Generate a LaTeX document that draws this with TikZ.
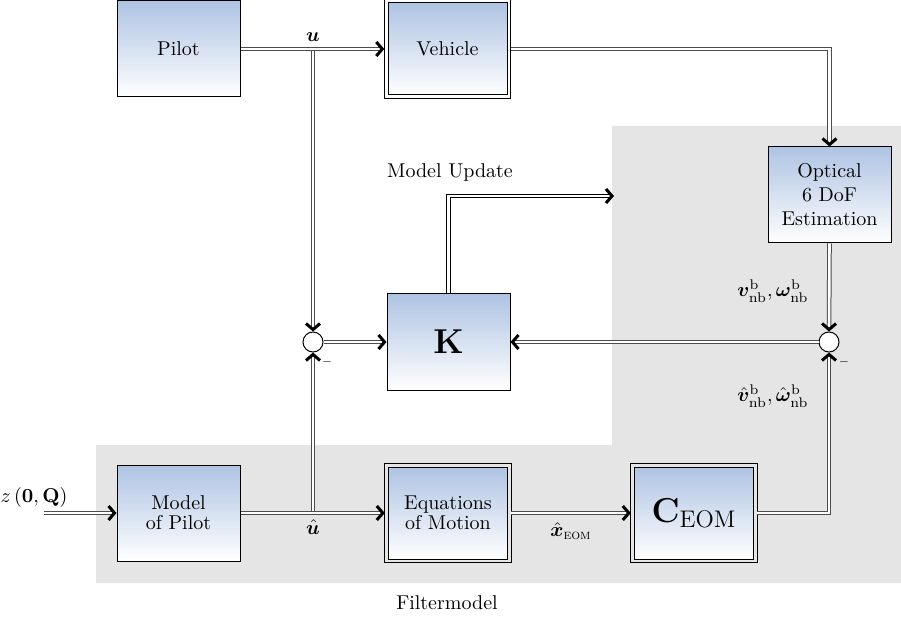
\documentclass[tikz,border=0pt]{standalone}
\usepackage{amsmath,amssymb,bm}
\usetikzlibrary{arrows.meta,calc}
\definecolor{boxblue}{RGB}{174,195,227}
\definecolor{regiongray}{RGB}{229,229,229}
\tikzset{
  blockbox/.style={draw=black, line width=0.5pt, top color=boxblue, bottom color=white,
    minimum width=61.5pt, minimum height=48pt, inner sep=2pt, align=center},
  dblbox/.style={blockbox, minimum width=59.5pt, minimum height=46pt},
  outerframe/.style={draw=black, line width=0.5pt},
  sumnode/.style={circle, draw=black, line width=0.5pt, fill=white, minimum size=10pt, inner sep=0pt},
  sig/.style={draw=black!70, double=white, double distance=1.3pt, line width=0.5pt,
    -{Straight Barb[length=3pt,width=7pt,line width=1.5pt,color=black]}},
  lbl/.style={inner sep=1pt}
}
\begin{document}
\begin{tikzpicture}[x=0.5pt,y=-0.5pt]
\useasboundingbox (0,0) rectangle (901,631);
% gray filter region
\fill[regiongray] (96,445) -- (612,445) -- (612,126) -- (901,126) -- (901,583) -- (96,583) -- cycle;

% blocks
\node[blockbox] (pilot) at (178.5,49) {Pilot};
\node[dblbox] (veh) at (447.5,49) {Vehicle};
\node[blockbox] (opt) at (829.5,195) {Optical\\6 DoF\\Estimation};
\node[blockbox] (K) at (448.5,342) {\LARGE$\mathbf{K}$};
\node[blockbox] (mop) at (178.5,513) {Model\\[-2pt]of Pilot};
\node[dblbox] (eom) at (448,513) {Equations\\[-2pt]of Motion};
\node[dblbox] (ceom) at (694,513) {\LARGE$\mathbf{C}_{\text{EOM}}$};
\foreach \n in {veh,eom,ceom}{
  \draw[outerframe] ($(\n.north west)+(-1.6pt,1.6pt)$) rectangle ($(\n.south east)+(1.6pt,-1.6pt)$);
}

\node[sumnode] (sumL) at (313,342) {};
\node[sumnode] (sumR) at (829,342) {};

\coordinate (uJ) at (313,49);
\coordinate (uhJ) at (313,513);
\coordinate (zS) at (44,513);
\coordinate (muE) at (614,196);

% vertical branches first
\draw[sig] (uJ) -- (sumL.north);
\draw[sig] (uhJ) -- (sumL.south);

% main signal flow
\draw[sig] (pilot.east) -- ($(veh.west)+(-1.6pt,0)$);
\draw[sig] ($(veh.east)+(1.6pt,0)$) -| (opt.north);
\draw[sig] (opt.south) -- (sumR.north);
\draw[sig] (sumR.west) -- (K.east);
\draw[sig] (sumL.east) -- (K.west);
\draw[sig, draw=black] (K.north) |- (muE);
\draw[sig] (zS) -- (mop.west);
\draw[sig] (mop.east) -- ($(eom.west)+(-1.6pt,0)$);
\draw[sig] ($(eom.east)+(1.6pt,0)$) -- ($(ceom.west)+(-1.6pt,0)$);
\draw[sig] ($(ceom.east)+(1.6pt,0)$) -| (sumR.south);

% labels
\node[lbl] (lu) at (313,37) {$\bm{u}$};
\node[lbl] (luh) at (313,527) {$\hat{\bm{u}}$};
\node[lbl] (lx) at (571,531) {$\hat{\bm{x}}_{\textsc{eom}}$};
\node[lbl] (lz) at (34,497) {$z\,(\mathbf{0},\mathbf{Q})$};
\node[lbl] (lv) at (773,291) {$\bm{v}^{\mathrm{b}}_{\mathrm{nb}},\bm{\omega}^{\mathrm{b}}_{\mathrm{nb}}$};
\node[lbl] (lvh) at (773,396) {$\hat{\bm{v}}^{\mathrm{b}}_{\mathrm{nb}},\hat{\bm{\omega}}^{\mathrm{b}}_{\mathrm{nb}}$};
\node[lbl] (mL) at (327,362) {\tiny$-$};
\node[lbl] (mR) at (844,362) {\tiny$-$};
\node[lbl] (mu) at (450,172) {Model Update};
\node[lbl] (fm) at (447,603) {Filtermodel};
\end{tikzpicture}
\end{document}
